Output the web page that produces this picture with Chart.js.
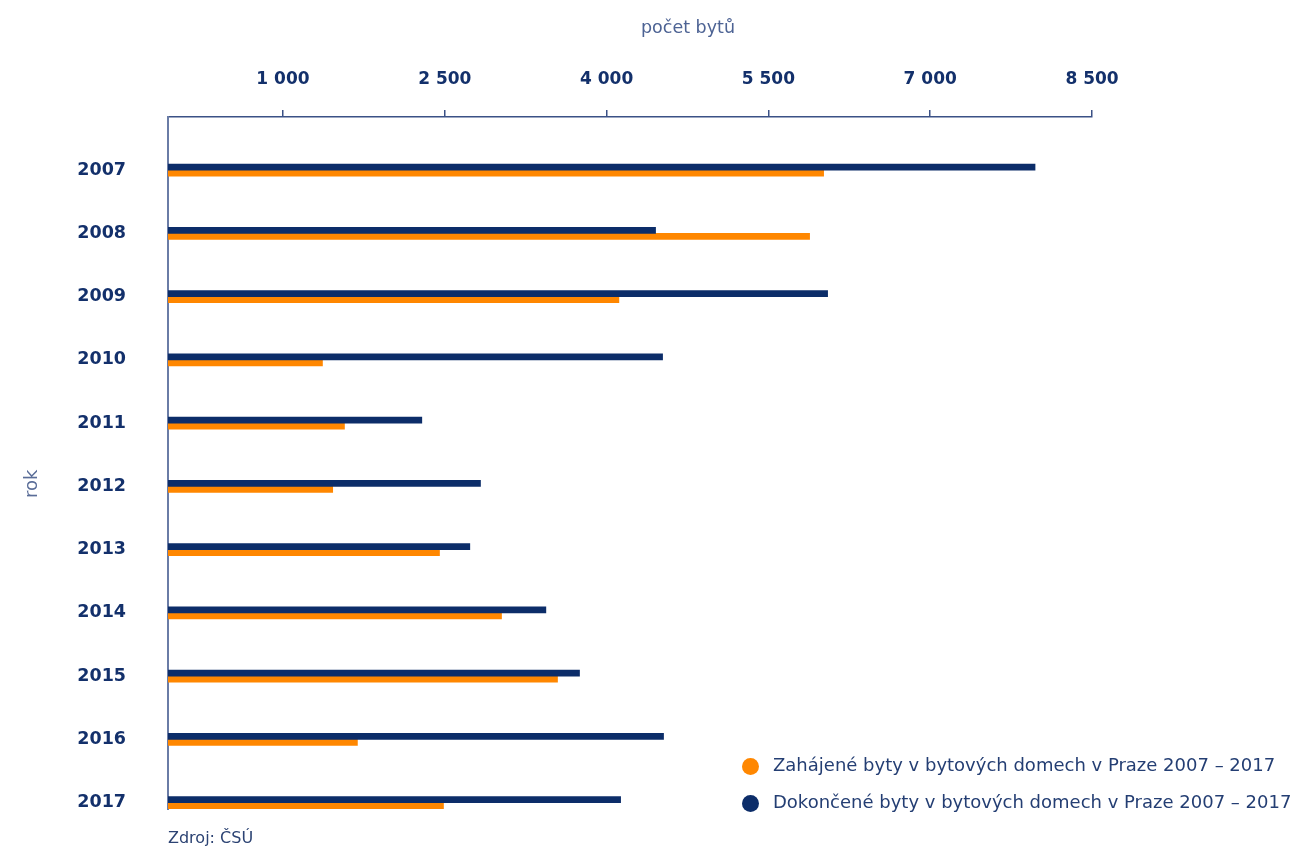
<!DOCTYPE html>
<html>
<head>
<meta charset="utf-8">
<script src="https://cdn.jsdelivr.net/npm/chart.js@4.4.1/dist/chart.umd.min.js"></script>
<style>
  html, body { margin: 0; padding: 0; background: #ffffff; }
  #wrap { position: relative; width: 1297px; height: 846px; overflow: hidden; }
  canvas { position: absolute; left: 0; top: 0; }
  .lg { position: absolute; left: 742px; font-family: "DejaVu Sans", sans-serif; font-size: 18px; color: #243e73; white-space: nowrap; }
  .lg span.dot { position: absolute; left: 0; top: 4px; width: 17px; height: 17px; border-radius: 50%; }
  .lg span.tx { position: absolute; left: 31px; top: 0; }
  #title { position: absolute; left: 588px; width: 200px; top: 17px; text-align: center; font-family: "DejaVu Sans", sans-serif; font-size: 17.5px; color: #4d6394; }
  #rok { position: absolute; left: 22px; top: 474px; font-family: "DejaVu Sans", sans-serif; font-size: 18px; color: #5a6d98; transform: rotate(-90deg); transform-origin: 11px 13px; }
  #src { position: absolute; left: 168px; top: 828px; font-family: "DejaVu Sans", sans-serif; font-size: 16px; color: #2c4373; }
</style>
</head>
<body>
<div id="wrap">
  <canvas id="c" width="1297" height="846"></canvas>
  <div id="title">počet bytů</div>
  <div class="lg" style="top:754px"><span class="dot" style="background:#ff8700"></span><span class="tx">Zahájené byty v bytových domech v Praze 2007 – 2017</span></div>
  <div class="lg" style="top:791px"><span class="dot" style="background:#0c2d69"></span><span class="tx">Dokončené byty v bytových domech v Praze 2007 – 2017</span></div>
  <div id="rok">rok</div>
  <div id="src">Zdroj: ČSÚ</div>
</div>
<script>
const years = ['2007','2008','2009','2010','2011','2012','2013','2014','2015','2016','2017'];
const zahajene = [6012, 5882, 4114, 1366, 1570, 1461, 2451, 3026, 3545, 1690, 2488];
const dokoncene = [7972, 4454, 6049, 4519, 2287, 2831, 2732, 3437, 3749, 4528, 4130];
const xTicks = [1000, 2500, 4000, 5500, 7000, 8500];
const xMin = -66;
const xMax = 8500;

const navy = '#0c2d69';
const orange = '#ff8700';
const axisCol = '#6a7ca6';
const tickCol = '#13306b';

function fmt(v) { return String(v).replace(/\B(?=(\d{3})+(?!\d))/g, ' '); }

new Chart(document.getElementById('c'), {
  type: 'bar',
  data: {
    datasets: [
      { label: 'Dokončené byty v bytových domech v Praze 2007 – 2017',
        data: dokoncene.map((v, i) => ({ x: v, y: i })),
        base: xMin,
        backgroundColor: navy, barThickness: 6, borderWidth: 0 },
      { label: 'Zahájené byty v bytových domech v Praze 2007 – 2017',
        data: zahajene.map((v, i) => ({ x: v, y: i })),
        base: xMin,
        backgroundColor: orange, barThickness: 6, borderWidth: 0 }
    ]
  },
  options: {
    indexAxis: 'y',
    responsive: false,
    animation: false,
    layout: { padding: { left: 0, right: 205, top: 0, bottom: 37 } },
    plugins: { legend: { display: false }, tooltip: { enabled: false } },
    scales: {
      x: {
        type: 'linear',
        position: 'top',
        bounds: 'data',
        min: xMin,
        max: xMax,
        afterBuildTicks: (s) => { s.ticks = xTicks.map(v => ({ value: v })); },
        afterFit: (s) => { s.height = 117; },
        ticks: {
          callback: (v) => fmt(v),
          color: tickCol,
          font: { family: 'DejaVu Sans', weight: 'bold', size: 17 },
          padding: 20,
          maxRotation: 0
        },
        grid: { drawOnChartArea: false, drawTicks: true, tickLength: 7, color: '#3b5186', lineWidth: 1.5 },
        border: { display: true, color: '#3b5186', width: 1.5 }
      },
      y: {
        type: 'linear',
        reverse: true,
        offset: false,
        bounds: 'data',
        min: -0.84,
        max: 10.1,
        afterBuildTicks: (s) => { s.ticks = years.map((_, i) => ({ value: i })); },
        afterFit: (s) => { s.width = 168; },
        ticks: {
          callback: (v) => years[v],
          color: tickCol,
          font: { family: 'DejaVu Sans', weight: 'bold', size: 17.5 },
          padding: 0
        },
        grid: { display: true, offset: false, drawOnChartArea: false, drawTicks: true, tickLength: 42, color: 'rgba(0,0,0,0)' },
        border: { display: true, color: axisCol, width: 2 }
      }
    }
  }
});
</script>
</body>
</html>
